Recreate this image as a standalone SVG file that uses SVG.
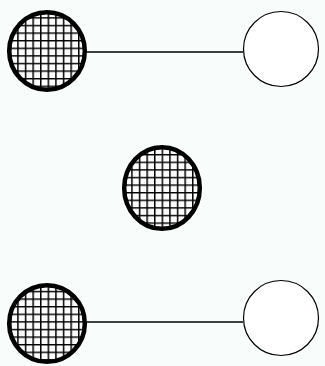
<svg xmlns="http://www.w3.org/2000/svg" width="325" height="366" viewBox="0 0 325 366">
<style>
.hatched{fill:url(#grid);stroke:#000;stroke-width:4.5}
.open{fill:#fff;stroke:#000;stroke-width:1.2}
.edge{stroke:#000;stroke-width:1.5;fill:none}
</style>
<defs>
<pattern id="grid" patternUnits="userSpaceOnUse" x="2" y="2" width="7.6" height="7.6">
<rect width="7.6" height="7.6" fill="#fff"/>
<path d="M0 0.75H7.6M0.75 0V7.6" stroke="#000" stroke-width="1.5"/>
</pattern>
</defs>
<rect width="325" height="366" fill="#f8fcfa"/>
<g id="connectors">
<line class="edge" x1="87" y1="52" x2="243" y2="52"/>
<line class="edge" x1="87" y1="322" x2="243" y2="322"/>
</g>
<g id="n1"><ellipse class="hatched" cx="47" cy="51" rx="37.8" ry="38.8"/></g>
<g id="n2"><circle class="open" cx="281" cy="49" r="37.5"/></g>
<g id="n3"><ellipse class="hatched" cx="162" cy="188" rx="37.8" ry="40.8"/></g>
<g id="n4"><ellipse class="hatched" cx="47" cy="323.5" rx="37.8" ry="38.3"/></g>
<g id="n5"><circle class="open" cx="281" cy="318" r="37.5"/></g>
</svg>
